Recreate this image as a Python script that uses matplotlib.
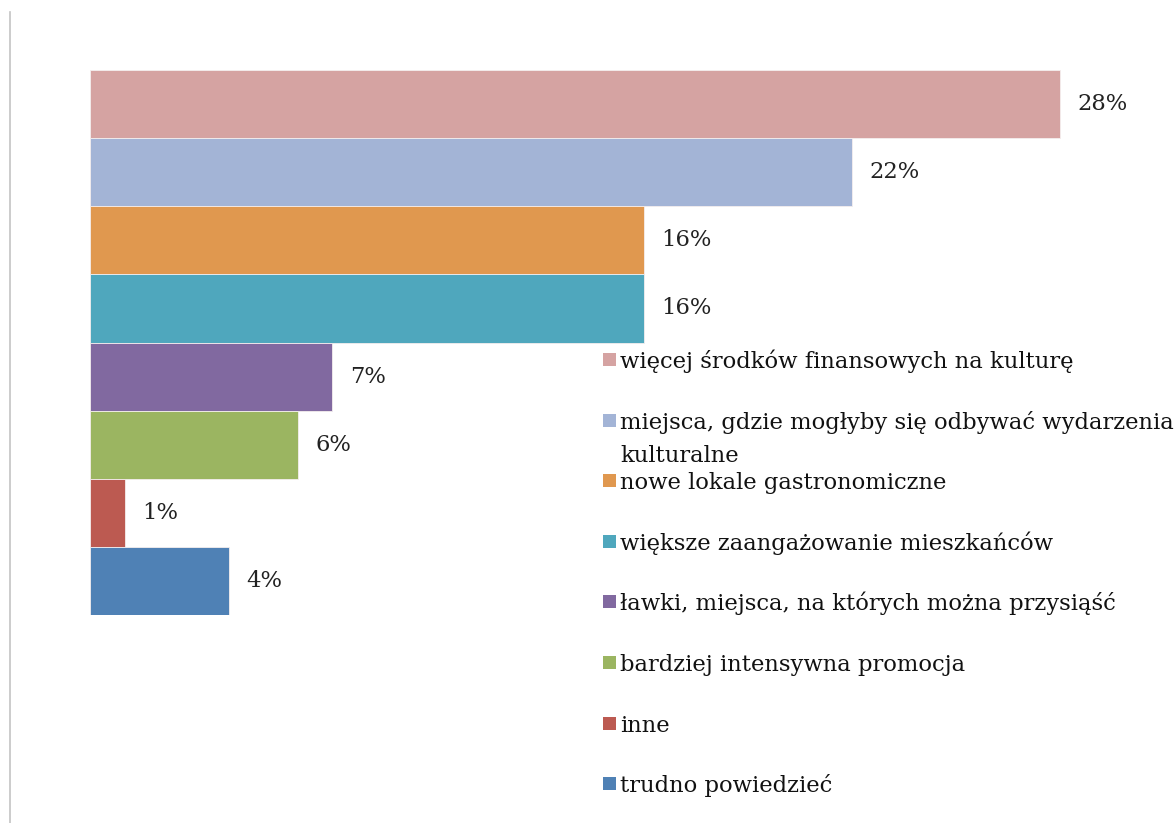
import matplotlib.pyplot as plt
from matplotlib.lines import Line2D
from matplotlib.patches import Rectangle

labels = [
    'więcej środków finansowych na kulturę',
    'miejsca, gdzie mogłyby się odbywać wydarzenia\nkulturalne',
    'nowe lokale gastronomiczne',
    'większe zaangażowanie mieszkańców',
    'ławki, miejsca, na których można przysiąść',
    'bardziej intensywna promocja',
    'inne',
    'trudno powiedzieć',
]
values = [28, 22, 16, 16, 7, 6, 1, 4]
colors = ['#D5A3A2', '#A3B4D6', '#E0984F', '#4FA7BD',
          '#8169A0', '#9BB561', '#BC5A51', '#4F81B5']

W, H = 1175, 823
plt.rcParams['font.family'] = ['DejaVu Serif']

fig = plt.figure(figsize=(W / 100, H / 100), dpi=100)

# bars: value 0 at x=90px, ~34.64 px per percent, rows from y=70 to y=615
ax = fig.add_axes([90 / W, (H - 615) / H, 30 * 34.64 / W, 545 / H])
pos = list(range(len(values)))
ax.barh(pos, values, height=1.0, color=colors, edgecolor='#f4eeee', linewidth=0.6)
ax.set_xlim(0, 30)
ax.set_ylim(len(values) - 0.5, -0.5)
ax.axis('off')

for p, v in zip(pos, values):
    ax.annotate('%d%%' % v, (v, p), xytext=(12.5, 0), textcoords='offset points',
                va='center', ha='left', fontsize=16.3, color='#222222')

# thin frame line on the left
fig.add_artist(Line2D([10 / W, 10 / W], [0, 1 - 12 / H], color='#c4c4c4', linewidth=1.2))

# legend, one slot per category; wrapped labels continue below the first line
for i, (lab, c) in enumerate(zip(labels, colors)):
    base = 368 + i * 60.6
    fig.add_artist(Rectangle((603 / W, 1 - (base - 2) / H), 13 / W, 13 / H,
                             facecolor=c, edgecolor='none'))
    for j, line in enumerate(lab.split('\n')):
        fig.text(620 / W, 1 - (base + j * 33) / H, line, va='baseline', ha='left',
                 fontsize=16.3, color='#111111')

fig.savefig('out.png', dpi=100)
